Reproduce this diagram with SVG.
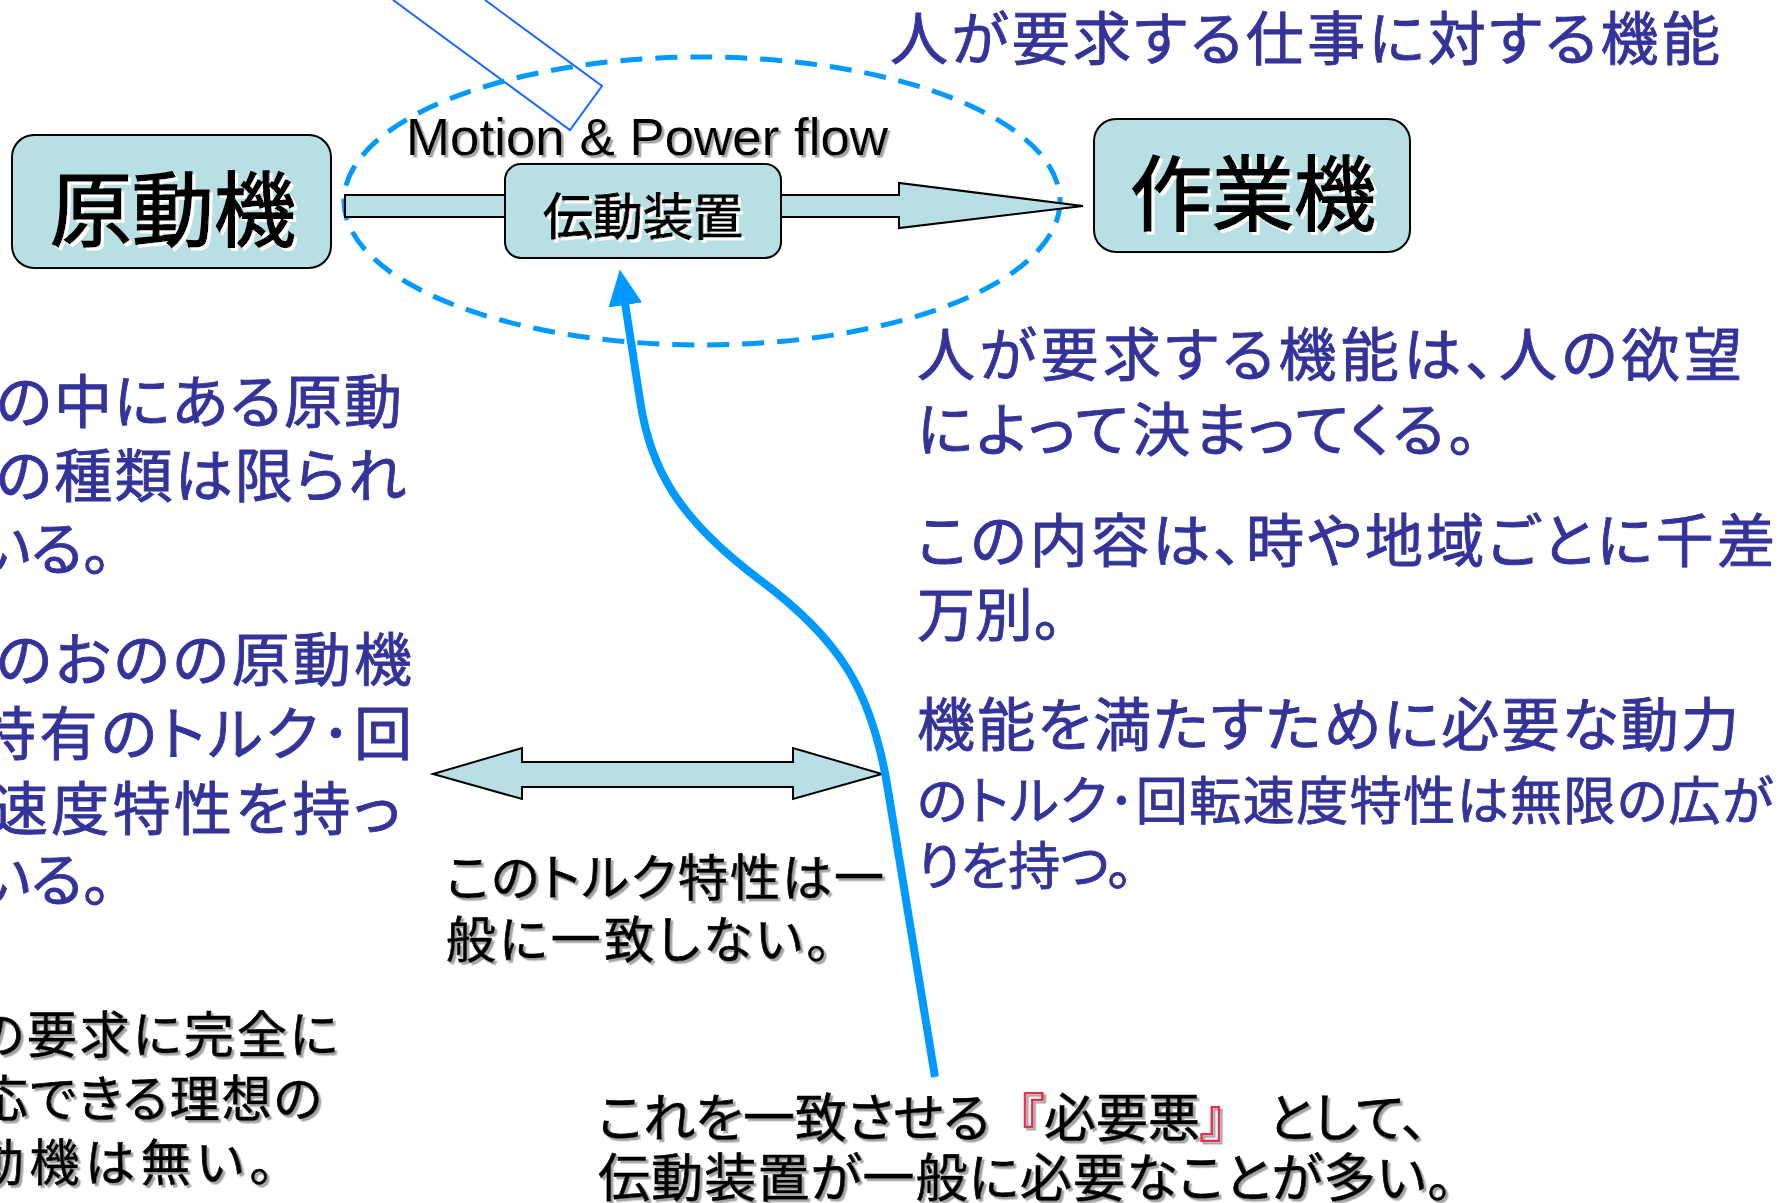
<svg xmlns="http://www.w3.org/2000/svg" width="1791" height="1203" viewBox="0 0 1791 1203">
<defs>
<style>
.jp{font-family:"Noto Sans CJK JP","Noto Sans CJK SC",sans-serif;font-feature-settings:"palt";}
.navy{fill:#333399;stroke:#333399;stroke-width:0.9;font-size:58px;}
.navy2{fill:#333399;stroke:#333399;stroke-width:0.8;font-size:52px;}
.blk{fill:#000000;stroke:#000000;stroke-width:0.7;}
.boxtxt{fill:#000000;stroke:#000000;stroke-width:1.6;}
.box{fill:#b8dfe3;stroke:#000000;stroke-width:2;}
.blockarrow{fill:#b8dfe3;stroke:#000000;stroke-width:2;stroke-linejoin:miter;}
.red{fill:#e8264f;stroke:#e8264f;}
</style>
<filter id="whiteShadow" x="-10%" y="-10%" width="130%" height="130%">
<feDropShadow dx="3" dy="3" stdDeviation="0" flood-color="#ffffff" flood-opacity="1"/>
</filter>
<filter id="grayShadow" x="-10%" y="-10%" width="130%" height="130%">
<feDropShadow dx="2.5" dy="2.5" stdDeviation="0.6" flood-color="#9a9a9a" flood-opacity="0.9"/>
</filter>
<marker id="blueHead" markerUnits="userSpaceOnUse" markerWidth="40" markerHeight="40" viewBox="0 -20 40 40" refX="2" refY="0" orient="auto">
<path d="M0,-17 L36,0 L0,17 Z" fill="#0099ff"/>
</marker>
</defs>
<rect x="0" y="0" width="1791" height="1203" fill="#ffffff"/>

<!-- callout fragment -->
<polyline points="393,0 570,130 602,86 485,0" fill="none" stroke="#1a66ff" stroke-width="2"/>

<!-- dashed ellipse -->
<ellipse cx="702" cy="201" rx="358" ry="144" fill="none" stroke="#0099ff" stroke-width="5" stroke-dasharray="22 13"/>

<g id="connectors">
<polygon class="blockarrow" points="345,195 899,195 899,183 1083,206 899,228 899,217 345,217"/>
<polygon class="blockarrow" points="433,774 522,748 522,762 793,762 793,748 882,774 793,799 793,787 522,787 522,799"/>
<path d="M935,1077 L888,790 C872,690 840,640 760,580 C680,520 650,470 640,400 L625,303" fill="none" stroke="#0099ff" stroke-width="8" marker-end="url(#blueHead)"/>
</g>

<g id="node-gendouki">
<rect class="box" x="12" y="135" width="319" height="133" rx="22" ry="22"/>
<text class="jp boxtxt" x="173" y="240" font-size="82" text-anchor="middle" filter="url(#whiteShadow)">原動機</text>
</g>

<g id="node-dendousouchi">
<rect class="box" x="505" y="164" width="276" height="94" rx="16" ry="16"/>
<text class="jp boxtxt" x="643" y="235" font-size="50" text-anchor="middle" style="stroke-width:1" filter="url(#whiteShadow)">伝動装置</text>
</g>

<g id="node-sagyouki">
<rect class="box" x="1094" y="119" width="316" height="133" rx="22" ry="22"/>
<text class="jp boxtxt" x="1253" y="224" font-size="82" text-anchor="middle" filter="url(#whiteShadow)">作業機</text>
</g>

<text x="406" y="155" font-family="'Liberation Sans',Arial,sans-serif" font-size="52" fill="#000000" filter="url(#grayShadow)" textLength="482" lengthAdjust="spacingAndGlyphs">Motion &amp; Power flow</text>

<text class="jp navy" x="890" y="60" textLength="830">人が要求する仕事に対する機能</text>

<g id="right-texts">
<text class="jp navy" x="917" y="376" textLength="825">人が要求する機能は、人の欲望</text>
<text class="jp navy" x="917" y="451" textLength="560">によって決まってくる。</text>
<text class="jp navy" x="917" y="562" textLength="858">この内容は、時や地域ごとに千差</text>
<text class="jp navy" x="917" y="636">万別。</text>
<text class="jp navy" x="917" y="746" textLength="822">機能を満たすために必要な動力</text>
<text class="jp navy2" x="917" y="820" textLength="856">のトルク･回転速度特性は無限の広が</text>
<text class="jp navy2" x="917" y="885">りを持つ。</text>
</g>

<g id="left-texts">
<text class="jp navy" x="-4" y="423" textLength="406">の中にある原動</text>
<text class="jp navy" x="-4" y="497" textLength="410">の種類は限られ</text>
<text class="jp navy" x="-24" y="570">いる。</text>
<text class="jp navy" x="-4" y="681" textLength="416">のおのの原動機</text>
<text class="jp navy" x="-22" y="755" textLength="434">特有のトルク･回</text>
<text class="jp navy" x="-10" y="830" textLength="410">速度特性を持っ</text>
<text class="jp navy" x="-24" y="901">いる。</text>
</g>

<g id="left-bottom-texts" filter="url(#grayShadow)">
<text class="jp blk" x="-24" y="1053" font-size="50" textLength="362">の要求に完全に</text>
<text class="jp blk" x="-22" y="1117" font-size="50" textLength="344">応できる理想の</text>
<text class="jp blk" x="-26" y="1181" font-size="50" textLength="300">動機は無い。</text>
</g>

<g id="middle-texts" filter="url(#grayShadow)">
<text class="jp blk" x="446" y="896" font-size="50" textLength="438">このトルク特性は一</text>
<text class="jp blk" x="446" y="958" font-size="50" textLength="385">般に一致しない。</text>
</g>

<g id="bottom-texts" filter="url(#grayShadow)">
<text class="jp blk" x="598" y="1137" font-size="52"><tspan>これを一致させる</tspan><tspan x="1018" class="red">『</tspan><tspan>必要悪</tspan><tspan class="red">』</tspan><tspan x="1268">として、</tspan></text>
<text class="jp blk" x="598" y="1197" font-size="52" textLength="855">伝動装置が一般に必要なことが多い。</text>
</g>
</svg>
